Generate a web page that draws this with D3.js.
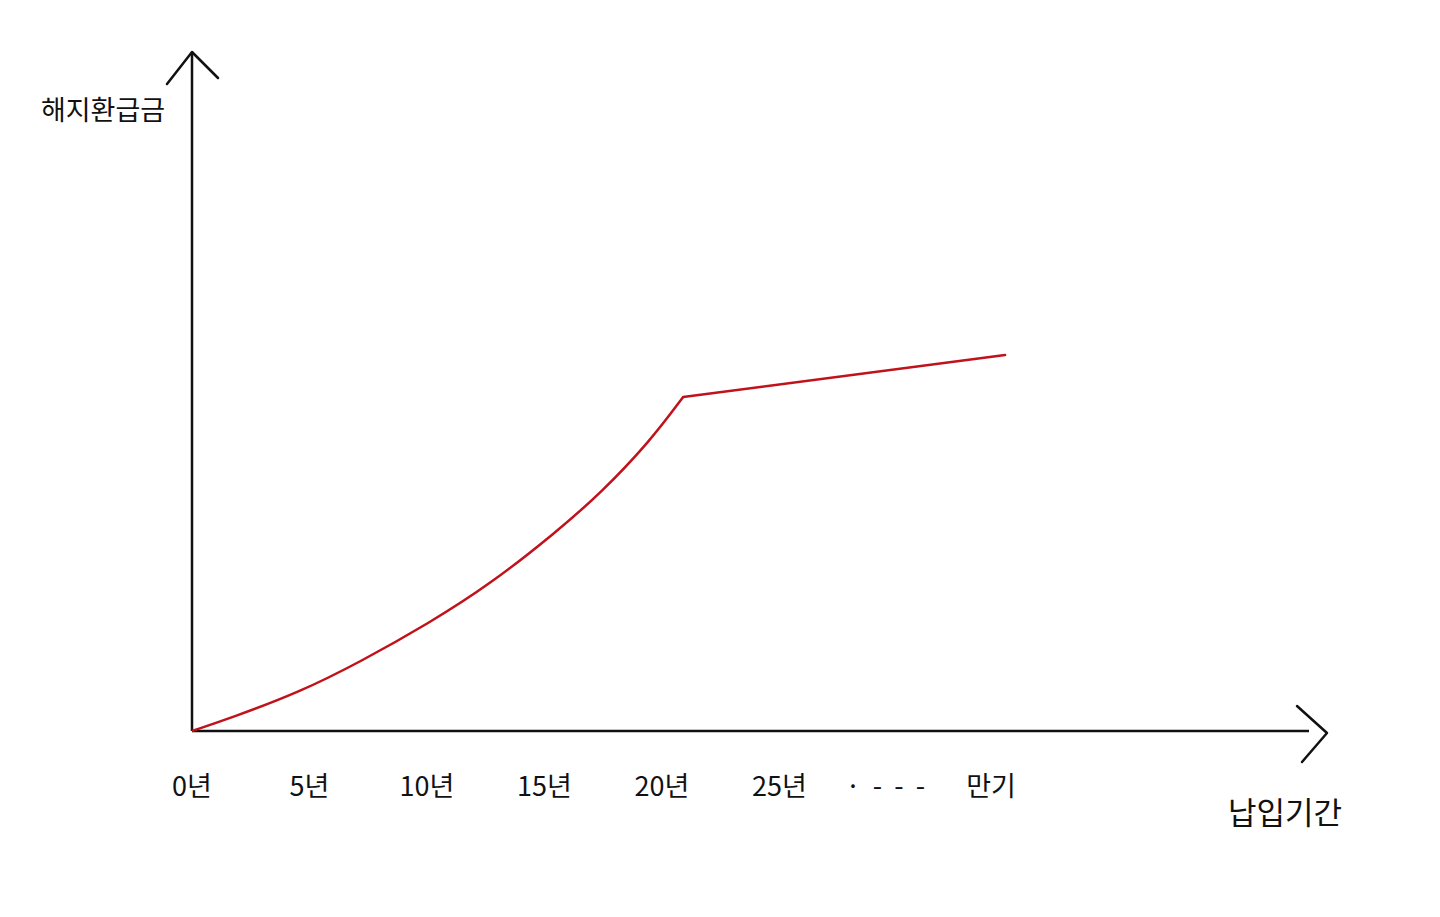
<!DOCTYPE html>
<html>
<head>
<meta charset="utf-8">
<script src="https://cdn.jsdelivr.net/npm/d3@7"></script>
<style>
  html, body { margin: 0; padding: 0; background: #fff; }
  svg { display: block; }
  text { font-family: "Noto Sans CJK KR", "Noto Sans", sans-serif; fill: #111; white-space: pre; }
</style>
</head>
<body>
<svg id="chart" width="1440" height="917"></svg>
<script>
// ---- data ----
const years  = [0, 1.6, 4.6, 7.15, 10.1, 12.7, 15.5, 17.4, 19.5, 20.9, 34.6];
const values = [0, 12.5, 39, 69, 108, 147, 199, 238, 290, 334, 376];
const tickYears  = [0, 5, 10, 15, 20, 25, 29.5, 34];
const tickLabels = ["0년", "5년", "10년", "15년", "20년", "25년", "·  -  -  -", "만기"];
const yTitle = "해지환급금";
const xTitle = "납입기간";

// ---- layout ----
const svg = d3.select("#chart");
const ox = 192, oy = 731;
const x = d3.scaleLinear().domain([0, 25]).range([ox, ox + 25 * 23.5]);
const y = d3.scaleLinear().domain([0, 680]).range([oy, oy - 680]);

const axisColor = "#111";

// y axis
svg.append("line")
  .attr("x1", ox).attr("y1", oy).attr("x2", ox).attr("y2", 52)
  .attr("stroke", axisColor).attr("stroke-width", 2.5);
svg.append("path")
  .attr("d", `M${ox - 25},${84} L${ox},${52} L${ox + 26},${78}`)
  .attr("fill", "none").attr("stroke", axisColor).attr("stroke-width", 2.5)
  .attr("stroke-linecap", "round").attr("stroke-linejoin", "round");

// x axis
svg.append("line")
  .attr("x1", ox).attr("y1", oy).attr("x2", 1309).attr("y2", oy)
  .attr("stroke", axisColor).attr("stroke-width", 2.5);
svg.append("path")
  .attr("d", `M1297,706 L1327,733 L1302,762`)
  .attr("fill", "none").attr("stroke", axisColor).attr("stroke-width", 2.5)
  .attr("stroke-linecap", "round").attr("stroke-linejoin", "round");

// tick labels
svg.append("g").selectAll("text")
  .data(tickLabels)
  .join("text")
  .attr("x", (d, i) => x(tickYears[i]))
  .attr("y", 796)
  .attr("text-anchor", "middle")
  .attr("font-size", 27)
  .text(d => d);

// axis titles
svg.append("text")
  .attr("x", 103).attr("y", 120)
  .attr("text-anchor", "middle")
  .attr("font-size", 27)
  .text(yTitle);
svg.append("text")
  .attr("x", 1285).attr("y", 824)
  .attr("text-anchor", "middle")
  .attr("font-size", 31)
  .text(xTitle);

// data line
const pts = years.map((yr, i) => [yr, values[i]]);
const kink = 9;
svg.append("path")
  .attr("d", d3.line().x(d => x(d[0])).y(d => y(d[1])).curve(d3.curveBasis)(pts.slice(0, kink + 1)))
  .attr("fill", "none").attr("stroke", "#c0121a").attr("stroke-width", 2.5);
svg.append("path")
  .attr("d", d3.line().x(d => x(d[0])).y(d => y(d[1]))(pts.slice(kink)))
  .attr("fill", "none").attr("stroke", "#c0121a").attr("stroke-width", 2.5)
  .attr("stroke-linecap", "round");
</script>
</body>
</html>
